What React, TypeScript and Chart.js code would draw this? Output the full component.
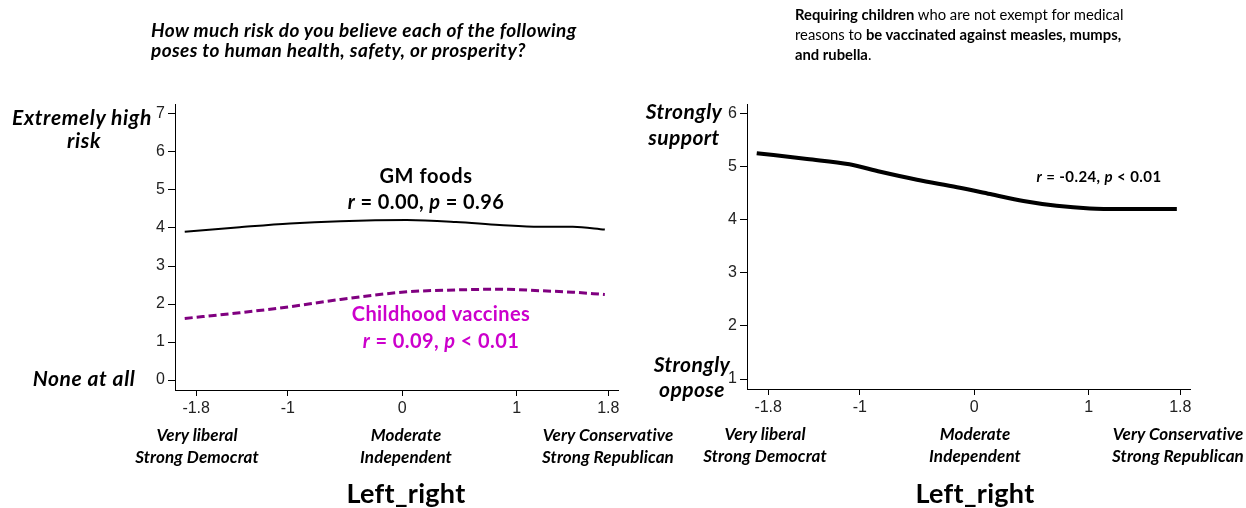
import React, { useEffect, useRef } from "react";
import { Chart, registerables } from "chart.js";

Chart.register(...registerables);

// Political position (left_right scale) sampled along the fitted curves
const positionX = [-1.9, -1.42, -0.98, -0.54, 0.04, 0.47, 0.85, 1.2, 1.49, 1.77];
const gmFoodsRisk = [3.9, 4.02, 4.12, 4.18, 4.21, 4.16, 4.08, 4.03, 4.03, 3.96];
const vaccineRisk = [1.62, 1.77, 1.93, 2.12, 2.32, 2.37, 2.39, 2.35, 2.31, 2.25];

const mandateX = [-1.9, -1.46, -1.09, -0.82, -0.5, -0.15, 0.14, 0.43, 0.72, 1.01, 1.3, 1.77];
const mandateSupport = [5.25, 5.14, 5.04, 4.9, 4.75, 4.61, 4.48, 4.35, 4.26, 4.21, 4.2, 4.2];

const xTickValues = [-1.8, -1, 0, 1, 1.8];
const xTickLabels = ["-1.8", "-1", "0", "1", "1.8"];
const riskTicks = [0, 1, 2, 3, 4, 5, 6, 7];
const supportTicks = [1, 2, 3, 4, 5, 6];

const anchorTop = ["Very liberal", "Moderate", "Very Conservative"];
const anchorBottom = ["Strong Democrat", "Independent", "Strong Republican"];

const X_MIN = -1.985;
const X_MAX = 1.885;

const TICK_FONT = "'Liberation Sans', Arial, sans-serif";
const TEXT_FONT = "Lato, 'Open Sans', sans-serif";

function toPoints(xs: number[], ys: number[]) {
  return xs.map((x, i) => ({ x, y: ys[i] }));
}

function buildOptions(
  yMin: number,
  yMax: number,
  yTicks: number[],
  padding: { left: number; right: number; top: number; bottom: number }
): any {
  return {
    responsive: false,
    maintainAspectRatio: false,
    animation: false,
    layout: { padding },
    plugins: { legend: { display: false }, tooltip: { enabled: false } },
    elements: { point: { radius: 0 } },
    scales: {
      x: {
        type: "linear",
        min: X_MIN,
        max: X_MAX,
        afterBuildTicks: (s: any) => {
          s.ticks = xTickValues.map((v) => ({ value: v }));
        },
        afterFit: (s: any) => {
          s.height = 30;
        },
        grid: { display: true, drawOnChartArea: false, drawTicks: true, tickLength: 6, color: "#000", lineWidth: 1 },
        border: { display: true, color: "#000", width: 1 },
        ticks: {
          autoSkip: false,
          maxRotation: 0,
          padding: 3,
          color: "#222",
          font: { family: TICK_FONT, size: 16 },
          callback: (v: number) => {
            const i = xTickValues.indexOf(v);
            return i >= 0 ? xTickLabels[i] : "";
          },
        },
      },
      y: {
        type: "linear",
        min: yMin,
        max: yMax,
        afterBuildTicks: (s: any) => {
          s.ticks = yTicks.map((v) => ({ value: v }));
        },
        afterFit: (s: any) => {
          s.width = 60;
        },
        grid: { display: true, drawOnChartArea: false, drawTicks: true, tickLength: 7, color: "#000", lineWidth: 1 },
        border: { display: true, color: "#000", width: 1 },
        ticks: {
          padding: 3,
          color: "#222",
          font: { family: TICK_FONT, size: 16 },
          callback: (v: number) => String(v),
        },
      },
    },
  };
}

function ChartCanvas({ config, left, width, height }: { config: any; left: number; width: number; height: number }) {
  const ref = useRef<HTMLCanvasElement | null>(null);
  useEffect(() => {
    if (!ref.current) return;
    const chart = new Chart(ref.current, config);
    return () => chart.destroy();
  }, [config]);
  return (
    <canvas
      ref={ref}
      width={width}
      height={height}
      style={{ position: "absolute", left, top: 0, width, height }}
    />
  );
}

const riskConfig = {
  type: "line",
  data: {
    datasets: [
      {
        label: "GM foods",
        data: toPoints(positionX, gmFoodsRisk),
        borderColor: "#000",
        borderWidth: 2,
        cubicInterpolationMode: "monotone",
        fill: false,
      },
      {
        label: "Childhood vaccines",
        data: toPoints(positionX, vaccineRisk),
        borderColor: "#800080",
        borderWidth: 3,
        borderDash: [8, 4],
        cubicInterpolationMode: "monotone",
        fill: false,
      },
    ],
  },
  options: buildOptions(-0.263, 7.263, riskTicks, { left: 115, right: 5, top: 104, bottom: 88 }),
};

const mandateConfig = {
  type: "line",
  data: {
    datasets: [
      {
        label: "MMR requirement",
        data: toPoints(mandateX, mandateSupport),
        borderColor: "#000",
        borderWidth: 4,
        cubicInterpolationMode: "monotone",
        fill: false,
      },
    ],
  },
  options: buildOptions(0.812, 6.175, supportTicks, { left: 64, right: 56, top: 104, bottom: 89 }),
};

function Label({
  x,
  y,
  children,
  size,
  spacing = 0,
  weight = 700,
  italic = true,
  color = "#000",
}: {
  x: number;
  y: number;
  children: React.ReactNode;
  size: number;
  spacing?: number;
  weight?: number;
  italic?: boolean;
  color?: string;
}) {
  return (
    <div
      style={{
        position: "absolute",
        left: x,
        top: y,
        transform: "translate(-50%, -50%)",
        whiteSpace: "nowrap",
        fontFamily: TEXT_FONT,
        fontSize: size,
        letterSpacing: spacing,
        fontWeight: weight,
        fontStyle: italic ? "italic" : "normal",
        color,
        lineHeight: 1,
        textAlign: "center",
      }}
    >
      {children}
    </div>
  );
}

const leftTickPx = [197, 287, 406, 517, 608];
const rightTickPx = [765, 859, 975, 1089, 1178];

export default function App() {
  return (
    <div
      style={{
        position: "absolute",
        left: 0,
        top: 0,
        width: 1246,
        height: 508,
        background: "#fff",
        overflow: "hidden",
      }}
    >
      <ChartCanvas config={riskConfig} left={0} width={623} height={508} />
      <ChartCanvas config={mandateConfig} left={623} width={623} height={508} />

      {/* Left panel question */}
      <div
        style={{
          position: "absolute",
          left: 151,
          top: 20,
          fontFamily: TEXT_FONT,
          fontSize: 19,
          letterSpacing: 0.4,
          fontWeight: 700,
          fontStyle: "italic",
          lineHeight: "20px",
          whiteSpace: "nowrap",
          color: "#000",
        }}
      >
        How much risk do you believe each of the following
        <br />
        poses to human health, safety, or prosperity?
      </div>

      {/* Right panel question */}
      <div
        style={{
          position: "absolute",
          left: 795,
          top: 4,
          fontFamily: TEXT_FONT,
          fontSize: 14.8,
          fontWeight: 400,
          lineHeight: "20px",
          whiteSpace: "nowrap",
          color: "#000",
        }}
      >
        <b>Requiring children</b> who are not exempt for medical
        <br />
        reasons to <b>be vaccinated against measles, mumps,</b>
        <br />
        <b>and rubella</b>.
      </div>

      {/* Left y-axis anchors */}
      <Label x={82} y={116} size={21} spacing={0.6}>Extremely high</Label>
      <Label x={84} y={139} size={21} spacing={0.6}>risk</Label>
      <Label x={84} y={377} size={21} spacing={0.6}>None at all</Label>

      {/* Right y-axis anchors */}
      <Label x={684} y={110} size={21} spacing={0.4}>Strongly</Label>
      <Label x={684} y={136} size={21} spacing={0.4}>support</Label>
      <Label x={692} y={363} size={21} spacing={0.4}>Strongly</Label>
      <Label x={692} y={388} size={21} spacing={0.4}>oppose</Label>

      {/* Series annotations */}
      <Label x={426} y={175} size={20} spacing={0.6} italic={false}>GM foods</Label>
      <Label x={426} y={201} size={20} spacing={0.4} italic={false}>
        <i>r</i> = 0.00, <i>p</i> = 0.96
      </Label>
      <Label x={441} y={313} size={20} spacing={0.4} italic={false} color="#cc00cc">Childhood vaccines</Label>
      <Label x={441} y={340} size={20} spacing={0.4} italic={false} color="#cc00cc">
        <i>r</i> = 0.09, <i>p</i> &lt; 0.01
      </Label>
      <Label x={1099} y={176} size={15} spacing={0.4} italic={false}>
        <i>r</i> = -0.24, <i>p</i> &lt; 0.01
      </Label>

      {/* Position anchors under the x axes */}
      {leftTickPx.map((px, i) =>
        i % 2 === 0 ? (
          <React.Fragment key={"l" + i}>
            <Label x={px} y={434} size={17} spacing={0.1}>{anchorTop[i / 2]}</Label>
            <Label x={px} y={456} size={17} spacing={0.1}>{anchorBottom[i / 2]}</Label>
          </React.Fragment>
        ) : null
      )}
      {rightTickPx.map((px, i) =>
        i % 2 === 0 ? (
          <React.Fragment key={"r" + i}>
            <Label x={px} y={433} size={17} spacing={0.1}>{anchorTop[i / 2]}</Label>
            <Label x={px} y={455} size={17} spacing={0.1}>{anchorBottom[i / 2]}</Label>
          </React.Fragment>
        ) : null
      )}

      <Label x={406} y={492} size={27} spacing={0.3} italic={false}>Left_right</Label>
      <Label x={975} y={492} size={27} spacing={0.3} italic={false}>Left_right</Label>
    </div>
  );
}
